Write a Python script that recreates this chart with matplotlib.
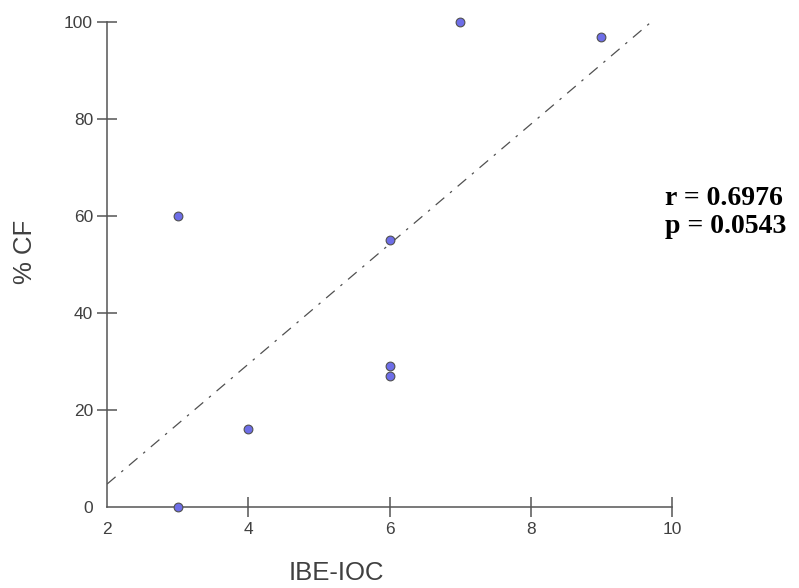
import matplotlib
matplotlib.use("Agg")
import matplotlib.pyplot as plt
import numpy as np

# data
ibe_ioc = [3, 3, 4, 6, 6, 6, 7, 9]
pct_cf = [0, 60, 16, 55, 29, 27, 100, 97]
x_ticks = [2, 4, 6, 8, 10]
y_ticks = [0, 20, 40, 60, 80, 100]
stats_text = ["r = 0.6976", "p = 0.0543"]

plt.rcParams["font.family"] = ["Liberation Sans", "DejaVu Sans"]
axis_grey = "#555555"
text_grey = "#404040"

fig = plt.figure(figsize=(7.99, 5.88), dpi=100)
ax = fig.add_axes([107 / 799, 1 - 507 / 588, 565 / 799, 485 / 588])

# regression line, drawn from x=2 up to where it reaches 100
coeffs = np.polyfit(ibe_ioc, pct_cf, 1)
x_end = (100 - coeffs[1]) / coeffs[0]
xs = np.array([2, x_end])
(fit,) = ax.plot(xs, np.polyval(coeffs, xs), color="#505050", lw=0.9)
fit.set_dashes((9, 6, 2, 6))

ax.plot(ibe_ioc, pct_cf, "o", ms=6.3, mfc="#6e6ee8", mec="#505050",
        mew=0.8, clip_on=False, zorder=3)

ax.set_xlim(2, 10)
ax.set_ylim(0, 100)
ax.set_xticks(x_ticks)
ax.set_yticks(y_ticks)

for side in ["top", "right"]:
    ax.spines[side].set_visible(False)
for side in ["left", "bottom"]:
    ax.spines[side].set_color(axis_grey)
    ax.spines[side].set_linewidth(1.1)

ax.tick_params(direction="inout", length=15, width=1.1, color=axis_grey,
               labelcolor=text_grey, labelsize=12.5)
ax.tick_params(axis="x", pad=3.5)
ax.tick_params(axis="y", pad=2.5)
# no tick marks at the corner
ax.xaxis.get_major_ticks()[0].tick1line.set_visible(False)
ax.yaxis.get_major_ticks()[0].tick1line.set_visible(False)

fig.text(336 / 799, 1 - 573 / 588, "IBE-IOC", fontsize=18.5, color=text_grey,
         ha="center", va="center")
fig.text(25 / 799, 1 - 252 / 588, "% CF", fontsize=18.5, color=text_grey,
         ha="center", va="center", rotation=90)

for i, s in enumerate(stats_text):
    fig.text(665 / 799, 1 - (205 + 28 * i) / 588, s, fontsize=20,
             family="Liberation Serif", weight="bold", color="black",
             ha="left", va="baseline")

fig.savefig("out.png", dpi=100)
